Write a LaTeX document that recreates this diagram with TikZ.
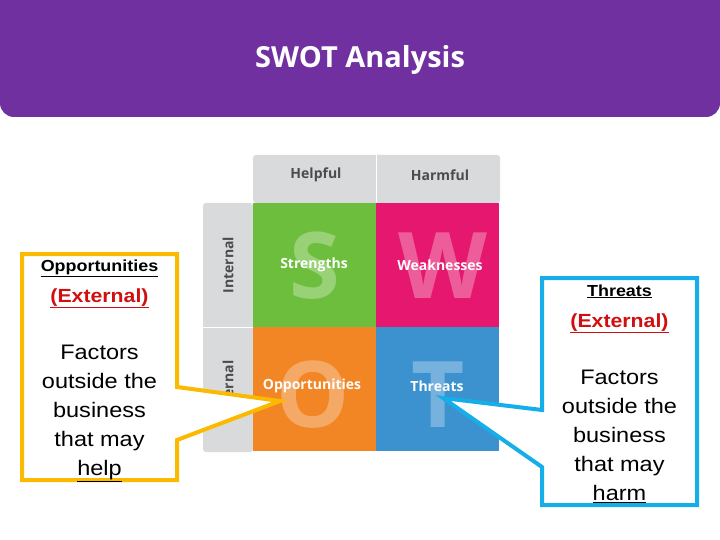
\documentclass[tikz,border=0pt]{standalone}
\usepackage{fontspec}
\setmainfont{Liberation Sans}
\newfontfamily\swotfont{Open Sans}
\newfontfamily\calloutfont[FakeStretch=1.12]{Liberation Sans}
\usetikzlibrary{calc,positioning}
\definecolor{swotpurple}{HTML}{7030A0}
\definecolor{swotgreen}{HTML}{6DBE3C}
\definecolor{swotpink}{HTML}{E5176E}
\definecolor{swotorange}{HTML}{F28524}
\definecolor{swotblue}{HTML}{3C92CF}
\definecolor{swotgray}{HTML}{D9DADC}
\definecolor{calloutyellow}{HTML}{FBBA00}
\definecolor{calloutblue}{HTML}{16AEE8}
\definecolor{extred}{HTML}{D01010}
\begin{document}
\begin{tikzpicture}[x=1pt, y=-1pt,
    cell/.style={minimum width=123pt, minimum height=124pt, inner sep=0pt},
    bigletter/.style={font=\swotfont\fontsize{92}{92}\selectfont\bfseries, text=white, opacity=.3},
    celllabel/.style={font=\swotfont\fontsize{14}{16}\selectfont\bfseries, text=white},
    headlabel/.style={font=\swotfont\fontsize{14}{16}\selectfont\bfseries, text=black!70},
    callout/.style={line width=4pt, fill=white, line join=miter},
    callouttext/.style={align=center, font=\calloutfont\fontsize{21}{29}\selectfont}]
  \useasboundingbox (0,0) rectangle (720,540);
  \fill[white] (0,0) rectangle (720,540);

  % Title band
  \fill[swotpurple, rounded corners=14pt] (0,-20) rectangle (720,117);
  \node[text=white, font=\swotfont\fontsize{29}{33}\selectfont\bfseries] (title) at (360,60) {SWOT Analysis};

  % === Matrix headers ===
  \fill[swotgray, rounded corners=3pt] (253,155) rectangle (500,203);
  \fill[swotgray, rounded corners=3pt] (203,203) rectangle (253,452);
  \draw[white, thick] (376,155) -- (376,203);
  \draw[white, thick] (203,327) -- (253,327);
  \node[headlabel] (helpful) at (316,175) {Helpful};
  \node[headlabel] (harmful) at (440,175) {Harmful};
  \node[headlabel, rotate=90] (internal) at (228,265) {Internal};
  \node[headlabel, rotate=90] (external) at (228,390) {External};

  % === Four cells ===
  \node[cell, fill=swotgreen, anchor=north west] (S) at (253,203) {};
  \node[cell, fill=swotpink, anchor=north west] (W) at (376,203) {};
  \node[cell, fill=swotorange, anchor=north west] (O) at (253,327) {};
  \node[cell, fill=swotblue, anchor=north west] (T) at (376,327) {};

  \node[bigletter] at ($(S)+(0,0)$) {S};
  \node[bigletter] at ($(W)+(5,0)$) {W};
  \node[bigletter] at ($(O)+(-2,5)$) {O};
  \node[bigletter] at ($(T)+(0,5)$) {T};

  \node[celllabel] (str) at (314,265) {Strengths};
  \node[celllabel] (weak) at (440,265) {Weaknesses};
  \node[celllabel] (opp) at (312,386) {Opportunities};
  \node[celllabel] (thr) at (437,386) {Threats};

  % === Left callout: opportunities ===
  \coordinate (opptip) at (280,401);
  \draw[callout, draw=calloutyellow]
    (22,254) -- (177,254) -- (177,387) -- (opptip) -- (177,440)
    -- (177,480) -- (22,480) -- cycle;
  \node[callouttext, anchor=north] (oppbox) at (99.5,256)
    {{\fontsize{16}{18}\selectfont\bfseries\underline{Opportunities}}\\[2pt]
     {\fontsize{19}{23}\selectfont\bfseries\textcolor{extred}{\underline{(External)}}}\\[28pt]
     Factors\\ outside the\\ business\\ that may\\ \underline{help}};

  % === Right callout: threats ===
  \coordinate (thrtip) at (443,398);
  \draw[callout, draw=calloutblue]
    (542,278) -- (697,278) -- (697,505) -- (542,505) -- (542,467)
    -- (thrtip) -- (542,410) -- cycle;
  \node[callouttext, anchor=north] (thrbox) at (619.5,281)
    {{\fontsize{16}{18}\selectfont\bfseries\underline{Threats}}\\[2pt]
     {\fontsize{19}{23}\selectfont\bfseries\textcolor{extred}{\underline{(External)}}}\\[28pt]
     Factors\\ outside the\\ business\\ that may\\ \underline{harm}};
\end{tikzpicture}
\end{document}
